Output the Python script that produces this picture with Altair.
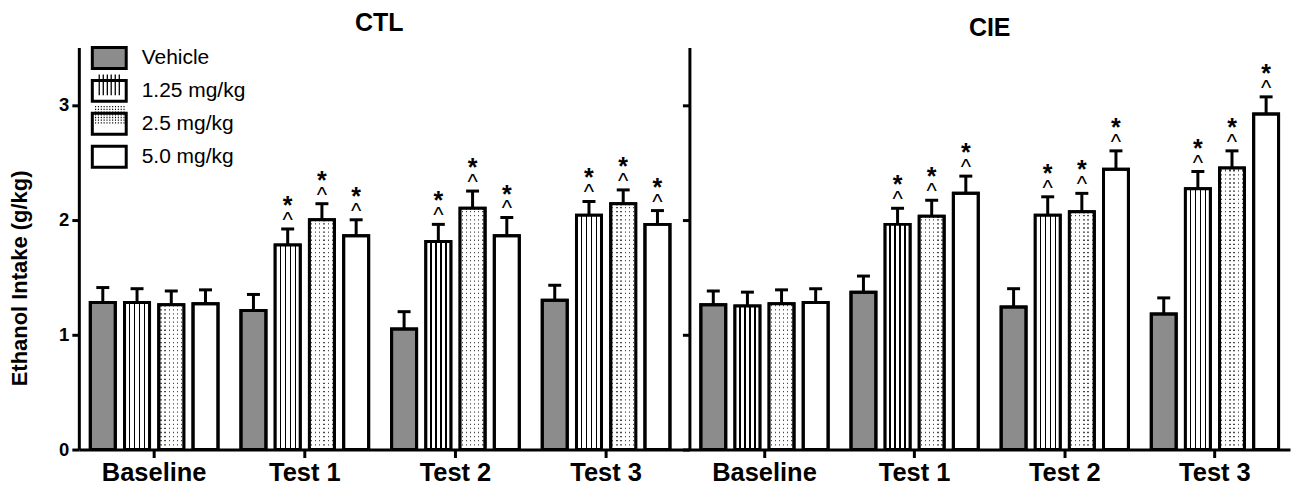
import altair as alt
import pandas as pd

groups = ["Baseline", "Test 1", "Test 2", "Test 3"]
doses = ["Vehicle", "1.25 mg/kg", "2.5 mg/kg", "5.0 mg/kg"]
y_ticks = [0, 1, 2, 3]

ctl_mean = [
    [1.28, 1.28, 1.26, 1.27],
    [1.21, 1.78, 2.00, 1.86],
    [1.05, 1.81, 2.10, 1.86],
    [1.30, 2.04, 2.14, 1.96],
]
ctl_sem = [
    [0.13, 0.12, 0.12, 0.12],
    [0.14, 0.14, 0.14, 0.14],
    [0.15, 0.15, 0.15, 0.16],
    [0.13, 0.12, 0.12, 0.12],
]
ctl_sig = [[0, 0, 0, 0], [0, 1, 1, 1], [0, 1, 1, 1], [0, 1, 1, 1]]

cie_mean = [
    [1.26, 1.25, 1.27, 1.28],
    [1.37, 1.96, 2.03, 2.23],
    [1.24, 2.04, 2.07, 2.44],
    [1.18, 2.27, 2.45, 2.92],
]
cie_sem = [
    [0.12, 0.12, 0.12, 0.12],
    [0.14, 0.14, 0.14, 0.15],
    [0.16, 0.16, 0.16, 0.16],
    [0.14, 0.15, 0.15, 0.15],
]
cie_sig = [[0, 0, 0, 0], [0, 1, 1, 1], [0, 1, 1, 1], [0, 1, 1, 1]]

FONT = "Liberation Sans"
GRAY = "#8c8c8c"
BAR_W = 25

# ---- pattern helpers (style only) ----
def stripe_gradient(centers, half, on, off):
    stops = [alt.GradientStop(offset=0, color=off)]
    for c in centers:
        stops += [
            alt.GradientStop(offset=round(c - half, 4), color=off),
            alt.GradientStop(offset=round(c - half, 4), color=on),
            alt.GradientStop(offset=round(c + half, 4), color=on),
            alt.GradientStop(offset=round(c + half, 4), color=off),
        ]
    stops.append(alt.GradientStop(offset=1, color=off))
    return alt.LinearGradient(gradient="linear", stops=stops, x1=0, x2=1, y1=0, y2=0)

line_grad = stripe_gradient([0.2, 0.4, 0.6, 0.8], 0.027, "black", "white")
dot_mask = stripe_gradient([(k + 0.5) / 6 for k in range(6)], 0.026,
                           "rgba(255,255,255,0)", "white")

# legend symbol geometry: legend 1 symbol scale 15 px/unit, legend 2 15.8 px/unit
S1 = 900.0       # sqrt = 30 -> entry size ceil(30 + 3) = 33
S2 = 998.56      # sqrt = 31.6 -> entry size ceil(31.6 + 1.3) = 33
k2 = 15.0 / 15.8
RECT_PATH = "M-1.133,-0.7H1.133V0.7H-1.133Z"
stripe_path = " ".join(
    f"M{x * k2:.3f},{-0.7 * k2:.3f}V{0.7 * k2:.3f}"
    for x in [-0.67, -0.4, -0.13, 0.13, 0.4, 0.67])
dot_path = " ".join(
    f"M{(-0.95 + 0.19 * i) * k2:.3f},{(-0.54 + 0.18 * j) * k2:.3f}h0.07"
    for i in range(11) for j in range(7))
EMPTY = "M0,0"


def make_df(mean, sem, sig):
    rows = []
    for gi, g in enumerate(groups):
        for di, d in enumerate(doses):
            rows.append(dict(group=g, dose=d, dose2=d, value=mean[gi][di],
                             upper=round(mean[gi][di] + sem[gi][di], 3),
                             base=0, sig=sig[gi][di]))
    return pd.DataFrame(rows)


def panel(mean, sem, sig, title, width, left):
    df = make_df(mean, sem, sig)
    x = alt.X("group:N", sort=groups,
              scale=alt.Scale(paddingInner=0, paddingOuter=0.0265 if left else 0, align=0),
              axis=alt.Axis(title=None, labelAngle=0, labelFont=FONT, labelFontSize=25.5,
                            labelFontWeight="bold", labelColor="black", tickSize=8,
                            labelPadding=3, domainWidth=3, tickWidth=3))
    xo = alt.XOffset("dose:N", sort=doses,
                     scale=alt.Scale(paddingInner=0.27, paddingOuter=0.335))
    if left:
        yaxis = alt.Axis(values=y_ticks, format="d", title="Ethanol Intake (g/kg)",
                         titleFont=FONT, titleFontSize=22, titleFontWeight="bold",
                         titleColor="black", titleY=231, titlePadding=27, labelFont=FONT,
                         labelFontSize=18.5, labelFontWeight="bold", labelColor="black",
                         tickSize=7, labelPadding=3, domainWidth=3, tickWidth=3, grid=False)
    else:
        yaxis = alt.Axis(values=y_ticks, title=None, labels=False, tickSize=7,
                         domainWidth=3, tickWidth=3, grid=False)
    yscale = alt.Scale(domain=[0, 3.5], nice=False)

    def Y(field):
        return alt.Y(field, type="quantitative", scale=yscale, axis=yaxis)

    base = alt.Chart(df).encode(x=x, xOffset=xo)

    fill = alt.Fill("dose:N", sort=doses,
                    scale=alt.Scale(domain=doses,
                                    range=[GRAY, "transparent", "transparent", "transparent"]),
                    legend=alt.Legend(title=None, orient="none", legendX=14, legendY=-6,
                                      symbolType=RECT_PATH, symbolSize=S1,
                                      symbolStrokeColor="black", symbolStrokeWidth=3,
                                      symbolOpacity=1, labelFont=FONT, labelFontSize=21,
                                      labelColor="black", labelOffset=16, rowPadding=0,
                                      padding=0) if left else None)

    bars = base.mark_bar(stroke="black", strokeWidth=3).encode(y=Y("value"), fill=fill)
    dots = base.mark_rule(strokeWidth=BAR_W, color="#4a4a4a", strokeDash=[1.3, 2.8]).encode(
        y=Y("base"), y2="value:Q").transform_filter(alt.datum.dose == doses[2])
    mask = base.mark_bar(fill=dot_mask).encode(y=Y("value")).transform_filter(
        alt.datum.dose == doses[2])
    stripes = base.mark_bar(fill=line_grad).encode(y=Y("value")).transform_filter(
        alt.datum.dose == doses[1])
    outline = base.mark_bar(fill="transparent", stroke="black", strokeWidth=3).encode(
        y=Y("value"))
    err = base.mark_rule(color="black", strokeWidth=3).encode(y=Y("value"), y2="upper:Q")
    cap = base.mark_tick(color="black", thickness=3, size=13, opacity=1,
                         orient="horizontal").encode(y=Y("upper"))
    caret = base.mark_text(text="^", font=FONT, fontSize=22, color="black",
                           baseline="alphabetic", dy=-2).encode(
        y=Y("upper")).transform_filter(alt.datum.sig == 1)
    star = base.mark_text(text="*", font=FONT, fontSize=25, fontWeight="bold", color="black",
                          baseline="alphabetic", dy=-15).encode(
        y=Y("upper")).transform_filter(alt.datum.sig == 1)

    layers = [bars, dots, mask, stripes, outline, err, cap, caret, star]
    if left:
        shape_legend = alt.Legend(title=None, orient="none", legendX=14, legendY=-6,
                                  symbolSize=S2, symbolStrokeColor="black",
                                  symbolStrokeWidth=1.3, symbolFillColor="transparent",
                                  symbolOpacity=1, labelExpr="''", labelFontSize=21,
                                  labelOffset=16, rowPadding=0, padding=0)
        pts = base.mark_point(filled=False, color="black", strokeWidth=1.3, size=0,
                              opacity=1).encode(
            y=Y("value"),
            shape=alt.Shape("dose2:N", sort=doses,
                            scale=alt.Scale(range=[EMPTY, stripe_path, dot_path, EMPTY]),
                            legend=shape_legend))
        layers.append(pts)

    return alt.layer(*layers).properties(
        width=width, height=403,
        title=alt.TitleParams(title, font=FONT, fontSize=25, fontWeight="bold",
                              color="black", anchor="middle", offset=6,
                              dx=-5 if left else 0),
    )


left = panel(ctl_mean, ctl_sem, ctl_sig, "CTL", 612, True)
right = panel(cie_mean, cie_sem, cie_sig, "CIE", 602, False)

chart = alt.hconcat(left, right, spacing=0, bounds="flush").resolve_scale(
    x="independent", xOffset="independent", fill="independent", shape="independent"
).properties(
    padding={"left": 0, "top": 2, "right": 2, "bottom": 0}
).configure_view(strokeWidth=0).configure_axis(
    domainColor="black", tickColor="black"
)

chart.save("out.html", embed_options={"renderer": "svg", "actions": False})
